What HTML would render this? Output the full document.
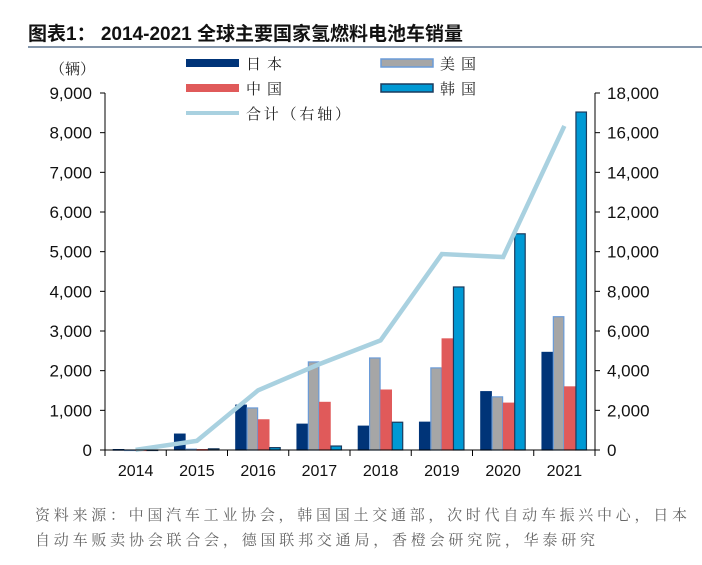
<!DOCTYPE html>
<html><head><meta charset="utf-8"><style>
body{margin:0;background:#fff;width:702px;height:560px;overflow:hidden;font-family:"Liberation Sans","Noto Serif CJK SC",sans-serif}
svg text{font-family:"Liberation Sans","Noto Sans CJK SC",sans-serif}
svg text.cjk{font-family:"Noto Serif CJK SC","Liberation Serif",serif}
</style></head><body>
<svg id="c" width="702" height="560">
<text x="28" y="40" font-size="19" font-weight="bold" fill="#111">图表1：  2014-2021 全球主要国家氢燃料电池车销量</text>
<line x1="28" y1="47" x2="702" y2="47" stroke="#8496ab" stroke-width="2"/>
<text class="cjk" x="50" y="74" font-size="15" fill="#222">（辆）</text>
<g id="legend">
<rect x="186" y="59" width="53" height="8" fill="#003478"/>
<text class="cjk" x="246" y="69" font-size="15" fill="#222" textLength="36">日本</text>
<rect x="381" y="59" width="52" height="8" fill="#a6a6a6" stroke="#6a9bd8" stroke-width="1.5"/>
<text class="cjk" x="440" y="69" font-size="15" fill="#222" textLength="36">美国</text>
<rect x="186" y="84" width="53" height="8" fill="#e05a5a"/>
<text class="cjk" x="246" y="94" font-size="15" fill="#222" textLength="36">中国</text>
<rect x="381" y="84" width="52" height="8" fill="#0099d4" stroke="#1b3b5e" stroke-width="1.5"/>
<text class="cjk" x="440" y="94" font-size="15" fill="#222" textLength="36">韩国</text>
<line x1="186" y1="113" x2="239" y2="113" stroke="#a9d1e0" stroke-width="4"/>
<text class="cjk" x="246" y="119" font-size="15" fill="#222" textLength="104">合计（右轴）</text>
</g>
<g id="plot"></g>
<text class="cjk" x="35" y="520" font-size="15" fill="#666" textLength="652" lengthAdjust="spacing">资料来源：中国汽车工业协会，韩国国土交通部，次时代自动车振兴中心，日本</text>
<text class="cjk" x="35" y="545" font-size="15" fill="#666" textLength="560" lengthAdjust="spacing">自动车贩卖协会联合会，德国联邦交通局，香橙会研究院，华泰研究</text>
</svg>
<script>
const categories=["2014","2015","2016","2017","2018","2019","2020","2021"];
const japan=[10,400,1130,650,600,700,1470,2460];
const usa=[0,20,1060,2220,2320,2070,1340,3360];
const china=[0,10,760,1200,1510,2800,1180,1590];
const korea=[0,30,60,100,700,4110,5450,8520];
const total=[10,460,3010,4330,5530,9880,9730,16340];
const leftTicks=[0,1000,2000,3000,4000,5000,6000,7000,8000,9000];
const rightTicks=[0,2000,4000,6000,8000,10000,12000,14000,16000,18000];
const NS="http://www.w3.org/2000/svg";
const X0=105,X1=595,Y0=450,Y1=93;
const cw=(X1-X0)/categories.length;
const yL=v=>Y0-(v/9000)*(Y0-Y1);
const yR=v=>Y0-(v/18000)*(Y0-Y1);
const xc=i=>X0+cw*(i+0.5);
const g=document.getElementById('plot');
function mk(t,a){const e=document.createElementNS(NS,t);for(const k in a)e.setAttribute(k,a[k]);g.appendChild(e);return e;}
const series=[[japan,"#003478","#003478","japan"],[usa,"#a6a6a6","#6a9bd8","usa"],[china,"#e05a5a","#e05a5a","china"],[korea,"#0099d4","#1b3b5e","korea"]];
const bw=10.5,stride=11.3;
series.forEach(([vals,fill,stroke,name],s)=>{
  vals.forEach((v,i)=>{
    const x=X0+cw*i+8.3+s*stride;
    const y=yL(v);
    const r=mk('rect',{x:x,y:y,width:bw,height:Math.max(Y0-y,0.5),fill:fill,stroke:stroke,'stroke-width':1.2});
    
    
  });
});
const pts=total.map((v,i)=>xc(i)+','+yR(v)).join(' ');
const pl=mk('polyline',{points:pts,fill:'none',stroke:'#a9d1e0','stroke-width':4.5,'stroke-linejoin':'miter'});


const la=mk('line',{x1:X0,y1:Y1,x2:X0,y2:Y0,stroke:'#000','stroke-width':1});


const ra=mk('line',{x1:X1,y1:Y1,x2:X1,y2:Y0,stroke:'#000','stroke-width':1});


const xa=mk('line',{x1:X0,y1:Y0,x2:X1,y2:Y0,stroke:'#000','stroke-width':1});


leftTicks.forEach(v=>{
  const y=yL(v);
  mk('line',{x1:X0-5,y1:y,x2:X0,y2:y,stroke:'#000'});
  const t=mk('text',{x:X0-13,y:y+6,'text-anchor':'end','font-size':17,fill:'#111'});
  t.textContent=v.toLocaleString('en-US');
  
  
});
rightTicks.forEach(v=>{
  const y=yR(v);
  mk('line',{x1:X1,y1:y,x2:X1+5,y2:y,stroke:'#000'});
  const t=mk('text',{x:X1+12,y:y+6,'font-size':17,fill:'#111'});
  t.textContent=v.toLocaleString('en-US');
  
  
});
categories.forEach((c,i)=>{
  const x=X0+cw*i;
  mk('line',{x1:x,y1:Y0,x2:x,y2:Y0+6,stroke:'#000'});
  const t=mk('text',{x:xc(i),y:Y0+26,'text-anchor':'middle','font-size':16,fill:'#111'});
  t.textContent=c;
  
  
});
mk('line',{x1:X1,y1:Y0,x2:X1,y2:Y0+6,stroke:'#000'});
</script>
</body></html>
